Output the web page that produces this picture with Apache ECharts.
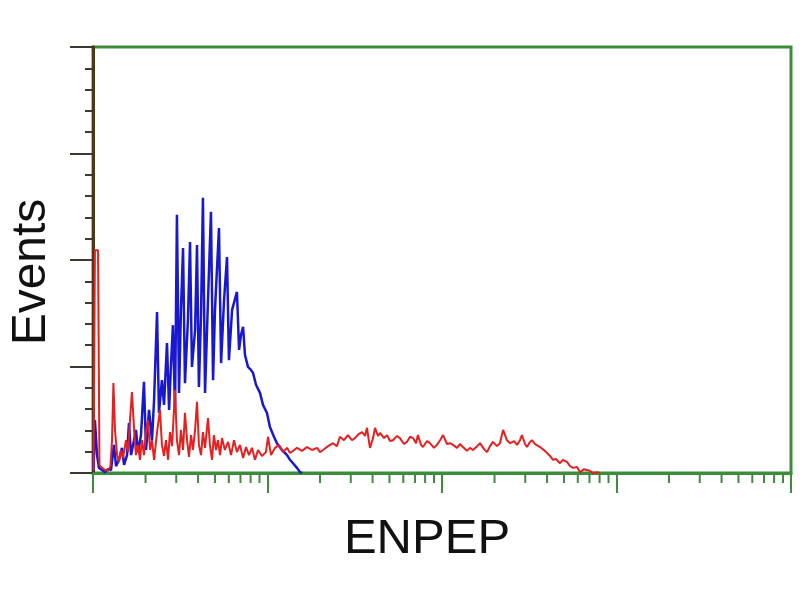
<!DOCTYPE html>
<html>
<head>
<meta charset="utf-8">
<script src="https://cdn.jsdelivr.net/npm/echarts@6/dist/echarts.min.js"></script>
<style>html,body{margin:0;padding:0;background:#fff;}#chart{width:800px;height:600px;}</style>
</head>
<body>
<div id="chart"></div>
<script>
// x: fluorescence in log decades (0..4), y: events (0..100)
const xDecades = [0, 1, 2, 3, 4];
const yTicks = [0, 25, 50, 75, 100];
const xTitle = 'ENPEP';
const yTitle = 'Events';

const blueData = [
[0.003,0.7],[0.011,12.4],[0.023,4.2],[0.034,1.2],[0.052,0.7],[0.069,0.2],[0.086,0.9],[0.103,0.7],
[0.120,6.6],[0.132,1.6],[0.149,3.1],[0.166,5.9],[0.178,1.9],[0.195,4.2],[0.206,11.7],[0.218,4.2],
[0.235,7.7],[0.246,10.1],[0.258,4.9],[0.275,8.9],[0.292,21.4],[0.304,5.4],[0.321,14.8],[0.338,7.7],
[0.350,17.1],[0.367,37.8],[0.378,14.1],[0.395,21.8],[0.407,16.0],[0.424,30.5],[0.436,14.8],[0.447,25.4],
[0.458,34.7],[0.470,14.8],[0.481,60.6],[0.493,18.8],[0.504,38.3],[0.516,52.8],[0.527,21.1],[0.544,35.9],
[0.556,54.2],[0.567,24.9],[0.585,33.6],[0.596,53.5],[0.607,20.2],[0.619,37.1],[0.630,64.6],[0.642,18.8],
[0.659,40.6],[0.676,61.3],[0.688,21.8],[0.699,38.3],[0.722,57.5],[0.734,25.8],[0.751,40.6],[0.768,50.7],
[0.779,26.5],[0.797,38.3],[0.825,42.5],[0.837,28.9],[0.848,32.4],[0.860,34.3],[0.871,27.7],[0.888,24.9],
[0.905,24.2],[0.917,23.5],[0.934,20.7],[0.957,18.8],[0.974,16.0],[0.997,14.1],[1.014,10.8],[1.037,8.5],
[1.054,7.0],[1.083,5.4],[1.112,4.2],[1.129,3.1],[1.146,2.3],[1.169,1.2],[1.186,0.2],[1.198,0]
];

const redData = [
[0.003,0.7],[0.011,52.3],[0.029,52.3],[0.037,1.9],[0.052,1.2],[0.069,0.7],[0.086,0.5],[0.100,1.6],
[0.109,7.7],[0.117,21.1],[0.126,10.1],[0.138,4.2],[0.149,2.6],[0.160,5.4],[0.172,3.5],[0.189,7.7],
[0.201,4.9],[0.212,12.4],[0.223,19.0],[0.235,10.6],[0.246,4.2],[0.258,6.6],[0.269,3.1],[0.281,7.7],
[0.292,4.2],[0.304,9.6],[0.315,12.4],[0.327,5.4],[0.338,7.7],[0.350,3.1],[0.367,9.6],[0.384,14.8],
[0.395,6.6],[0.407,4.0],[0.418,7.7],[0.430,3.1],[0.441,9.6],[0.453,6.3],[0.470,19.5],[0.481,7.7],
[0.493,4.2],[0.504,10.1],[0.516,5.4],[0.527,14.1],[0.539,7.7],[0.550,3.8],[0.562,8.9],[0.573,5.4],
[0.585,10.1],[0.596,16.7],[0.607,6.6],[0.619,4.2],[0.630,9.6],[0.642,5.9],[0.659,12.9],[0.670,6.6],
[0.682,3.1],[0.693,8.9],[0.705,5.4],[0.716,7.7],[0.728,4.2],[0.739,8.2],[0.756,5.4],[0.774,7.3],
[0.791,4.2],[0.808,7.7],[0.825,4.9],[0.842,6.6],[0.860,3.5],[0.877,6.1],[0.894,4.2],[0.911,5.9],
[0.928,3.1],[0.946,5.4],[0.968,4.0],[0.991,4.9],[1.003,8.5],[1.020,4.2],[1.043,5.9],[1.066,6.6],
[1.089,4.9],[1.112,5.9],[1.129,4.7],[1.169,5.9],[1.198,5.2],[1.226,6.1],[1.255,5.4],[1.284,5.9],
[1.301,4.9],[1.318,5.4],[1.347,6.3],[1.375,7.0],[1.398,6.3],[1.415,8.5],[1.438,7.7],[1.461,8.9],
[1.484,7.7],[1.501,8.2],[1.524,9.2],[1.542,9.6],[1.559,8.7],[1.570,10.6],[1.587,5.9],[1.605,8.2],
[1.616,10.6],[1.633,8.7],[1.645,9.4],[1.668,8.2],[1.685,8.9],[1.702,7.5],[1.719,7.7],[1.742,8.7],
[1.759,8.2],[1.782,6.8],[1.799,7.3],[1.817,8.5],[1.834,8.2],[1.851,7.0],[1.862,8.9],[1.880,6.6],
[1.891,6.1],[1.914,7.5],[1.931,7.0],[1.954,5.9],[1.971,6.6],[1.989,7.7],[2.006,8.9],[2.029,6.8],
[2.046,7.0],[2.063,6.6],[2.086,5.9],[2.103,6.8],[2.120,6.1],[2.143,5.2],[2.160,5.9],[2.178,5.4],
[2.201,6.3],[2.218,7.0],[2.241,5.6],[2.258,4.9],[2.275,6.3],[2.292,7.3],[2.315,6.3],[2.332,7.0],
[2.350,10.1],[2.372,7.7],[2.390,7.0],[2.413,7.5],[2.430,6.6],[2.447,7.7],[2.458,8.9],[2.476,6.8],
[2.487,6.1],[2.504,7.3],[2.516,7.7],[2.533,6.8],[2.544,6.6],[2.562,6.1],[2.573,5.9],[2.590,5.2],
[2.602,4.7],[2.619,4.0],[2.636,3.1],[2.653,3.3],[2.676,2.3],[2.693,3.1],[2.716,2.6],[2.734,1.6],
[2.751,1.2],[2.774,1.4],[2.791,0.2],[2.814,0.9],[2.831,0.7],[2.848,0.5],[2.865,0],[2.888,0.2],[2.905,0]
];

// log-style minor tick positions (2..9 within each decade)
const minorFactors = [2, 3, 4, 5, 6, 7, 8, 9];
const minorTicks = [];
for (let d = 0; d < xDecades.length - 1; d++) {
  for (const k of minorFactors) minorTicks.push([xDecades[d] + Math.log10(k), 0]);
}

const green = '#3c8c3c';
const chart = echarts.init(document.getElementById('chart'), null, {renderer: 'canvas'});
chart.setOption({
  animation: false,
  backgroundColor: '#ffffff',
  grid: {left: 93, right: 9, top: 47, bottom: 127, outerBoundsMode: 'none', containLabel: false,
         show: true, borderColor: green, borderWidth: 3, backgroundColor: 'transparent'},
  xAxis: {
    type: 'value', min: xDecades[0], max: xDecades[xDecades.length - 1], interval: 1,
    name: xTitle, nameLocation: 'middle', nameGap: 42,
    nameTextStyle: {fontFamily: 'Liberation Sans', fontSize: 49, color: '#111', padding: [0, 30, 0, 0]},
    axisLine: {show: true, onZero: false, lineStyle: {color: green, width: 3}},
    axisTick: {show: true, inside: false, length: 20, lineStyle: {color: green, width: 2}},
    axisLabel: {show: false},
    splitLine: {show: false}
  },
  yAxis: {
    type: 'value', min: yTicks[0], max: yTicks[yTicks.length - 1], interval: 25,
    name: yTitle, nameLocation: 'middle', nameGap: 37, nameRotate: 90,
    nameTextStyle: {fontFamily: 'Liberation Sans', fontSize: 48, color: '#111', padding: [0, 24, 0, 0]},
    axisLine: {show: true, onZero: false, lineStyle: {color: '#4a3a14', width: 3}},
    axisTick: {show: true, inside: false, length: 23, lineStyle: {color: '#3a3a30', width: 2}},
    minorTick: {show: true, splitNumber: 5, length: 8, lineStyle: {color: '#3a3a30', width: 2}},
    axisLabel: {show: false},
    splitLine: {show: false}
  },
  series: [
    {
      type: 'custom', name: 'minorTicks', data: minorTicks, silent: true, clip: false, z: 1,
      renderItem: function (params, api) {
        const p = api.coord([api.value(0), 0]);
        return {type: 'line', shape: {x1: p[0], y1: p[1], x2: p[0], y2: p[1] + 10},
                style: {stroke: green, lineWidth: 2}};
      }
    },
    {type: 'line', name: 'blue', data: blueData, showSymbol: false, smooth: false,
     lineStyle: {color: '#1818d0', width: 2.5}, z: 3},
    {type: 'line', name: 'red', data: redData, showSymbol: false, smooth: false,
     lineStyle: {color: '#e42020', width: 2}, z: 4}
  ]
});
</script>
</body>
</html>
